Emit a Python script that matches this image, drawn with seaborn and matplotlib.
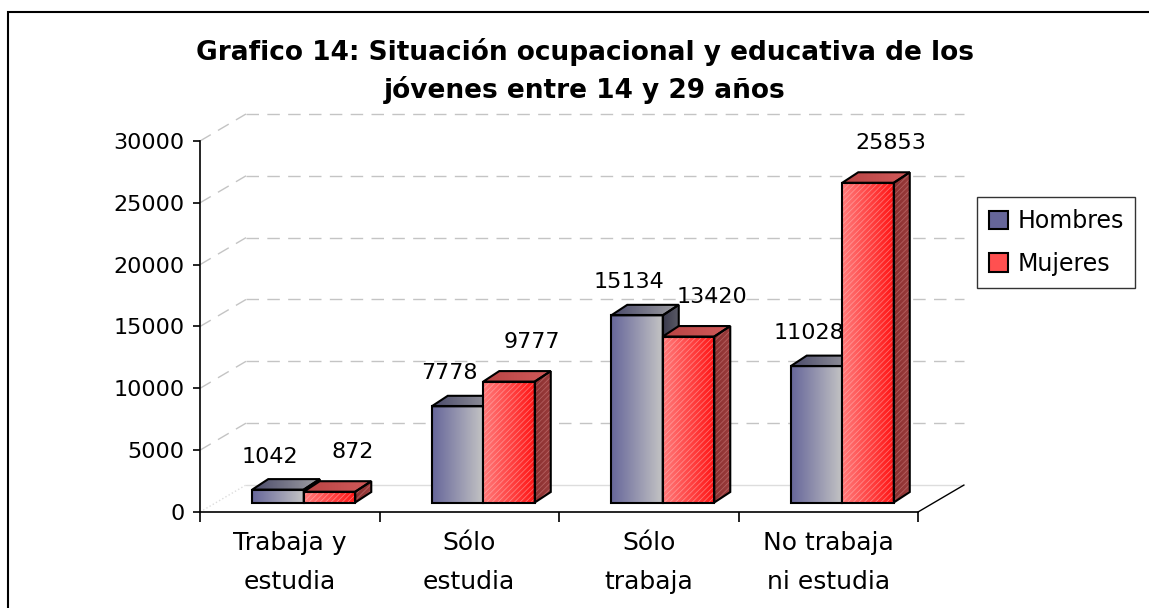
import numpy as np
import pandas as pd
import matplotlib
matplotlib.use('Agg')
import matplotlib.pyplot as plt
import seaborn as sns
from matplotlib.patches import Polygon, Rectangle, Patch
from matplotlib.colors import LinearSegmentedColormap, to_rgba

## data
categorias = ['Trabaja y\nestudia', 'Sólo\nestudia', 'Sólo\ntrabaja', 'No trabaja\nni estudia']
series = ['Hombres', 'Mujeres']
hombres = [1042, 7778, 15134, 11028]
mujeres = [872, 9777, 13420, 25853]
yticks = [0, 5000, 10000, 15000, 20000, 25000, 30000]
titulo = ['Grafico 14: Situación ocupacional y educativa de los',
          'jóvenes entre 14 y 29 años']

df = pd.DataFrame({'categoria': categorias * 2,
                   'sexo': ['Hombres'] * len(hombres) + ['Mujeres'] * len(mujeres),
                   'valor': hombres + mujeres})

sns.set_style('white')
plt.rcParams['font.family'] = ['DejaVu Sans']
plt.rcParams['hatch.linewidth'] = 0.6
for key in ['text.color', 'axes.labelcolor', 'xtick.color', 'ytick.color']:
    plt.rcParams[key] = 'black'

W, H = 1149, 608
fig = plt.figure(figsize=(W / 100, H / 100), dpi=100)
ax = fig.add_axes([200 / W, 96 / H, 718 / W, 371 / H])

pal = {'Hombres': '#8a8aa8', 'Mujeres': '#ff4444'}
sns.barplot(data=df, x='categoria', y='valor', hue='sexo', order=categorias, hue_order=series,
            palette=pal, width=0.574, gap=0, saturation=1, errorbar=None,
            edgecolor='black', linewidth=1.5, legend=False, ax=ax)

ax.set_xlim(-0.5, len(categorias) - 0.5)
ax.set_ylim(0, yticks[-1])

# pixel -> data conversion
pos = ax.get_position()
ppx = pos.width * W / len(categorias)      # px per category
upy = yticks[-1] / (pos.height * H)         # value units per px

# 3d depth (px): walls, bar front plane, bar depth
wall_dx, wall_dy = 46 / ppx, 27 * upy
ox, oy = 14 / ppx, 9.5 * upy
bx, by = 16 / ppx, 10.5 * upy

x_lo, x_hi = -0.5, len(categorias) - 0.5
grid_kw = dict(color='#c4c4c4', lw=1.0, clip_on=False, zorder=1)
for v in yticks:
    if v == 0:
        ax.plot([x_lo + wall_dx, x_hi + wall_dx], [wall_dy, wall_dy], color='#dddddd', lw=1, clip_on=False, zorder=1)
        ax.plot([x_lo, x_lo + wall_dx], [0, wall_dy], color='#dddddd', lw=1, ls=':', clip_on=False, zorder=1)
        continue
    ax.plot([x_lo + wall_dx, x_hi + wall_dx], [v + wall_dy, v + wall_dy], dashes=(9, 6), **grid_kw)
    ax.plot([x_lo, x_lo + wall_dx], [v, v + wall_dy], dashes=(9, 6), **grid_kw)
ax.plot([x_hi, x_hi + wall_dx], [0, wall_dy], color='black', lw=1, clip_on=False, zorder=1)


def gradient(patch, extent, c0, c1, z):
    cmap = LinearSegmentedColormap.from_list('g', [c0, c1])
    im = ax.imshow(np.linspace(0, 1, 256).reshape(1, -1), cmap=cmap, extent=extent,
                   aspect='auto', interpolation='bilinear', zorder=z)
    im.set_clip_path(patch)
    return im


style = {
    'Hombres': dict(front=('#66669a', '#c4c4c4'), top=('#4a4a6a', '#a0a0a4'), side=('#3a3a4c', '#5a5a66'), hatch=False),
    'Mujeres': dict(front=('#ff7a7a', '#ff1414'), top=('#b84444', '#d25a5a'), side=('#8a3030', '#9a3c3c'), hatch=True),
}
label_off = {'Hombres': (-8, 33), 'Mujeres': (23, 40)}

for k, s in enumerate(series):
    z = 3 + k
    st = style[s]
    bars = sorted([p for p in ax.patches if np.allclose(p.get_facecolor(), to_rgba(pal[s]))],
                  key=lambda p: p.get_x())
    vals = hombres if s == 'Hombres' else mujeres
    for p, v in zip(bars, vals):
        x0 = p.get_x() + ox
        w = p.get_width()
        h = p.get_height()
        p.set_x(x0)
        p.set_y(oy)
        p.set_facecolor('none')
        p.set_zorder(z + 0.3)
        gradient(p, (x0, x0 + w, oy, oy + h), *st['front'], z)
        if st['hatch']:
            ax.add_patch(Rectangle((x0, oy), w, h, facecolor='none', edgecolor=(1, 0.8, 0.8, 0.45),
                                   hatch='//////', lw=0, zorder=z + 0.1))
        top = Polygon([(x0, oy + h), (x0 + w, oy + h), (x0 + w + bx, oy + h + by), (x0 + bx, oy + h + by)],
                      closed=True, facecolor='none', edgecolor='black', lw=1.5, zorder=z + 0.3, clip_on=False)
        side = Polygon([(x0 + w, oy), (x0 + w + bx, oy + by), (x0 + w + bx, oy + h + by), (x0 + w, oy + h)],
                       closed=True, facecolor='none', edgecolor='black', lw=1.5, zorder=z + 0.3, clip_on=False)
        ax.add_patch(top)
        ax.add_patch(side)
        gradient(top, (x0, x0 + w + bx, oy + h, oy + h + by), *st['top'], z)
        gradient(side, (x0 + w, x0 + w + bx, oy, oy + h + by), *st['side'], z)
        if st['hatch']:
            ax.add_patch(Polygon(side.get_xy(), closed=True, facecolor='none', edgecolor=(1, 0.75, 0.75, 0.3),
                                 hatch='//////', lw=0, zorder=z + 0.1))
        ax.annotate(str(v), xy=(x0 + w / 2, oy + h), xytext=label_off[s], textcoords='offset pixels',
                    ha='center', va='center', fontsize=16, color='black', zorder=10)

ax.set_xlim(x_lo, x_hi)
ax.set_ylim(0, yticks[-1])

# axes styling
sns.despine(ax=ax, top=True, right=True)
for sp in ['left', 'bottom']:
    ax.spines[sp].set_color('black')
    ax.spines[sp].set_linewidth(1.2)
ax.set_yticks(yticks)
ax.set_yticklabels([str(t) for t in yticks], fontsize=16)
ax.tick_params(axis='y', direction='out', length=5, width=1.2, pad=6, colors='black', left=True)
ax.set_xticks(np.arange(len(categorias) + 1) - 0.5)
ax.set_xticklabels([])
ax.set_xticks(np.arange(len(categorias)), minor=True)
ax.set_xticklabels(categorias, minor=True, fontsize=18, linespacing=1.75)
ax.tick_params(axis='x', which='major', direction='out', length=7, width=1.2, bottom=True)
ax.tick_params(axis='x', which='minor', length=0, pad=14)
ax.set_xlabel('')
ax.set_ylabel('')
ax.grid(False)

# title
fig.text(585 / W, 1 - 52 / H, titulo[0], ha='center', va='center', fontsize=19, fontweight='bold')
fig.text(585 / W, 1 - 90 / H, titulo[1], ha='center', va='center', fontsize=19, fontweight='bold')

# legend
handles = [Patch(facecolor=style[s]['front'][0] if s == 'Hombres' else '#ff5050', edgecolor='black', lw=1.5)
           for s in series]
leg = fig.legend(handles, series, loc='upper left', bbox_to_anchor=(977 / W, 1 - 197 / H),
                 frameon=True, fancybox=False, edgecolor='black', fontsize=17,
                 handlelength=0.8, handleheight=0.8, handletextpad=0.4, borderpad=0.5,
                 labelspacing=0.8, borderaxespad=0)
leg.get_frame().set_linewidth(1.0)

# outer frame
fig.add_artist(Rectangle((8 / W, -0.1), 1.2, (H - 12) / H + 0.1, transform=fig.transFigure,
                         fill=False, edgecolor='black', lw=1.5))

fig.savefig('out.png', dpi=100)
